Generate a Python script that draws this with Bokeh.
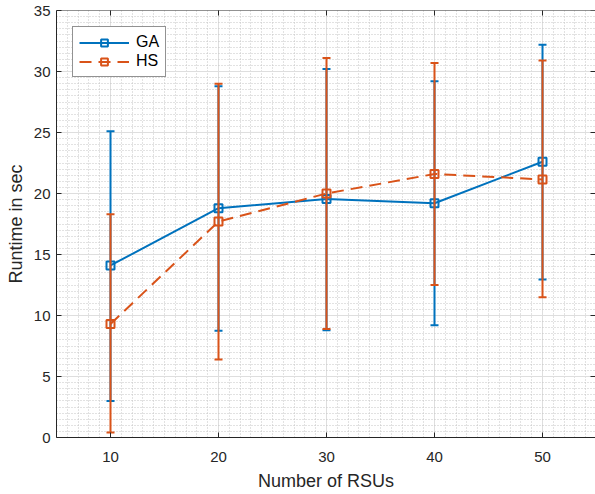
import math
from bokeh.plotting import figure
from bokeh.models import Range1d, LinearAxis, SingleIntervalTicker, Legend, LegendItem, Span
from bokeh.embed import file_html
from bokeh.resources import INLINE

# ---- data ----
rsus = [10, 20, 30, 40, 50]
ga_mean = [14.1, 18.8, 19.55, 19.2, 22.6]
ga_upper = [25.1, 28.8, 30.2, 29.2, 32.2]
ga_lower = [3.0, 8.75, 8.8, 9.2, 12.95]
hs_mean = [9.3, 17.7, 20.0, 21.6, 21.15]
hs_upper = [18.3, 29.0, 31.1, 30.7, 30.9]
hs_lower = [0.4, 6.4, 8.9, 12.5, 11.5]

x_ticks = [10, 20, 30, 40, 50]
y_ticks = [0, 5, 10, 15, 20, 25, 30, 35]

BLUE = "#0072BD"
ORANGE = "#D95319"
AX = "#262626"
FONT = "Liberation Sans"
X_START, X_END = 5, 54.907
Y_START, Y_END = 0, 35

p = figure(width=595, height=494, output_backend="svg", toolbar_location=None,
           x_range=Range1d(X_START, X_END), y_range=Range1d(Y_START, Y_END),
           min_border_left=56, min_border_right=0, min_border_top=10, min_border_bottom=57,
           x_axis_location=None, y_axis_location=None)
p.outline_line_color = None
p.background_fill_color = "white"

xt = SingleIntervalTicker(interval=10, num_minor_ticks=10)
yt = SingleIntervalTicker(interval=5, num_minor_ticks=10)

def style_axis(ax):
    ax.axis_line_color = AX
    ax.axis_line_width = 1
    ax.major_tick_line_color = AX
    ax.major_tick_in = 5
    ax.major_tick_out = 0
    ax.minor_tick_line_color = None
    ax.minor_tick_in = 0
    ax.minor_tick_out = 0
    ax.major_label_text_color = AX
    ax.major_label_text_font = FONT
    ax.major_label_text_font_size = "15px"
    ax.axis_label_text_color = AX
    ax.axis_label_text_font = FONT
    ax.axis_label_text_font_style = "normal"
    ax.axis_label_text_font_size = "18px"

xaxis = LinearAxis(ticker=xt, axis_label="Number of RSUs")
style_axis(xaxis)
xaxis.major_label_standoff = 14
xaxis.axis_label_standoff = 6
p.add_layout(xaxis, "below")

yaxis = LinearAxis(ticker=yt, axis_label="Runtime in sec")
style_axis(yaxis)
yaxis.major_label_standoff = 6
yaxis.axis_label_standoff = 5
p.add_layout(yaxis, "left")

p.xgrid.ticker = xt
p.ygrid.ticker = yt
for g in (p.xgrid, p.ygrid):
    g.grid_line_color = "#dedede"
    g.grid_line_width = 1
    g.minor_grid_line_color = "#c4c4c4"
    g.minor_grid_line_dash = "1 2"
    g.minor_grid_line_width = 1

# box: top border line plus inward ticks on top and right edges
p.add_layout(Span(location=Y_END, dimension="width", line_color=AX, line_width=1))
p.scatter(x=x_ticks, y=[Y_END] * len(x_ticks), marker="dash", angle=math.pi / 2,
          size=10, line_color=AX, line_width=1)
p.scatter(x=[X_END] * len(y_ticks), y=y_ticks, marker="dash",
          size=10, line_color=AX, line_width=1)

def series(mean, lo, hi, color, dash):
    p.segment(x0=rsus, y0=lo, x1=rsus, y1=hi, line_color=color, line_width=2)
    p.scatter(x=rsus, y=lo, marker="dash", size=8, line_color=color, line_width=2)
    p.scatter(x=rsus, y=hi, marker="dash", size=8, line_color=color, line_width=2)
    ln = p.line(x=rsus, y=mean, line_color=color, line_width=2, line_dash=dash)
    mk = p.scatter(x=rsus, y=mean, marker="square", size=8, line_color=color,
                   line_width=2, fill_color=None)
    return ln, mk

ga_l, ga_m = series(ga_mean, ga_lower, ga_upper, BLUE, "solid")
hs_l, hs_m = series(hs_mean, hs_lower, hs_upper, ORANGE, "12 7")

legend = Legend(items=[LegendItem(label="GA", renderers=[ga_l, ga_m]),
                       LegendItem(label="HS", renderers=[hs_l, hs_m])],
                location="top_left", orientation="vertical")
legend.label_text_font = FONT
legend.label_text_font_size = "16px"
legend.label_text_color = "black"
legend.glyph_width = 50
legend.glyph_height = 17
legend.label_height = 17
legend.label_standoff = 7
legend.padding = 6
legend.spacing = 1
legend.margin = 16
legend.border_line_color = AX
legend.border_line_width = 1
legend.background_fill_color = "white"
legend.background_fill_alpha = 1
p.add_layout(legend, "center")

open("out.html", "w").write(file_html(p, INLINE))
